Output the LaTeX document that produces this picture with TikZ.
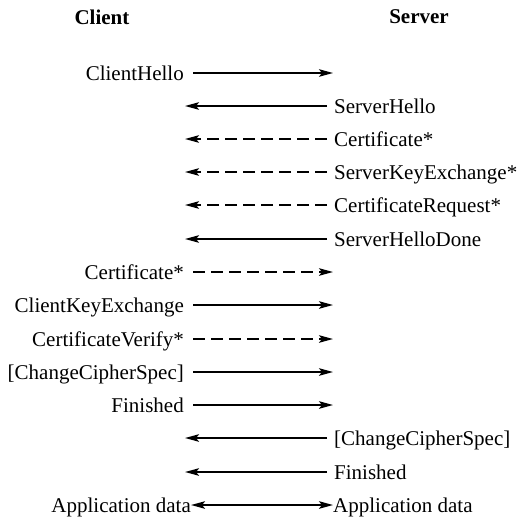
\documentclass[tikz,border=0pt]{standalone}
\usepackage{fontspec}
\setmainfont{Liberation Serif}
\usetikzlibrary{arrows.meta}
\begin{document}
\begin{tikzpicture}[x=1pt,y=-1pt,
  lbl/.style={inner sep=0pt,text height=15pt,text depth=1pt,font=\fontsize{21}{24}\selectfont},
  cl/.style={lbl,anchor=east},
  sv/.style={lbl,anchor=west},
  hdr/.style={inner sep=0pt,font=\fontsize{21}{24}\selectfont\bfseries},
  tip/.tip={Stealth[length=14pt,width=7.5pt,inset=3pt]},
  msg/.style={line width=1.8pt,-tip},
  opt/.style={msg,dash pattern=on 12pt off 6pt}]
\useasboundingbox (0,0) rectangle (521,520);
\node[hdr] (client) at (102,17) {Client};
\node[hdr] (server) at (419,17) {Server};
% rows
\foreach \i/\y in {1/73,2/106,3/139,4/172,5/205,6/239,7/272,8/305,9/339,10/372,11/405,12/438,13/472,14/505}{
  \coordinate (L\i) at (185,\y);
  \coordinate (Ls\i) at (193,\y);
  \coordinate (R\i) at (333,\y);
  \coordinate (Rs\i) at (327,\y);
}
\node[cl] (c1) at (184,73) {ClientHello};
\draw[msg] (Ls1) -- (R1);
\node[sv] (s2) at (334,106) {ServerHello};
\draw[msg] (Rs2) -- (L2);
\node[sv] (s3) at (334,139) {Certificate*};
\draw[opt] (Rs3) -- (L3);
\node[sv] (s4) at (334,172) {ServerKeyExchange*};
\draw[opt] (Rs4) -- (L4);
\node[sv] (s5) at (334,205) {CertificateRequest*};
\draw[opt] (Rs5) -- (L5);
\node[sv] (s6) at (334,239) {ServerHelloDone};
\draw[msg] (Rs6) -- (L6);
\node[cl] (c7) at (184,272) {Certificate*};
\draw[opt] (Ls7) -- (R7);
\node[cl] (c8) at (184,305) {ClientKeyExchange};
\draw[msg] (Ls8) -- (R8);
\node[cl] (c9) at (184,339) {CertificateVerify*};
\draw[opt] (Ls9) -- (R9);
\node[cl] (c10) at (184,372) {[ChangeCipherSpec]};
\draw[msg] (Ls10) -- (R10);
\node[cl] (c11) at (184,405) {Finished};
\draw[msg] (Ls11) -- (R11);
\node[sv] (s12) at (334,438) {[ChangeCipherSpec]};
\draw[msg] (Rs12) -- (L12);
\node[sv] (s13) at (334,472) {Finished};
\draw[msg] (Rs13) -- (L13);
\node[cl] (c14) at (191,505) {Application data};
\node[sv] (s14) at (333,505) {Application data};
\draw[line width=1.8pt,tip-tip] (c14.east) -- (s14.west);
\end{tikzpicture}
\end{document}
